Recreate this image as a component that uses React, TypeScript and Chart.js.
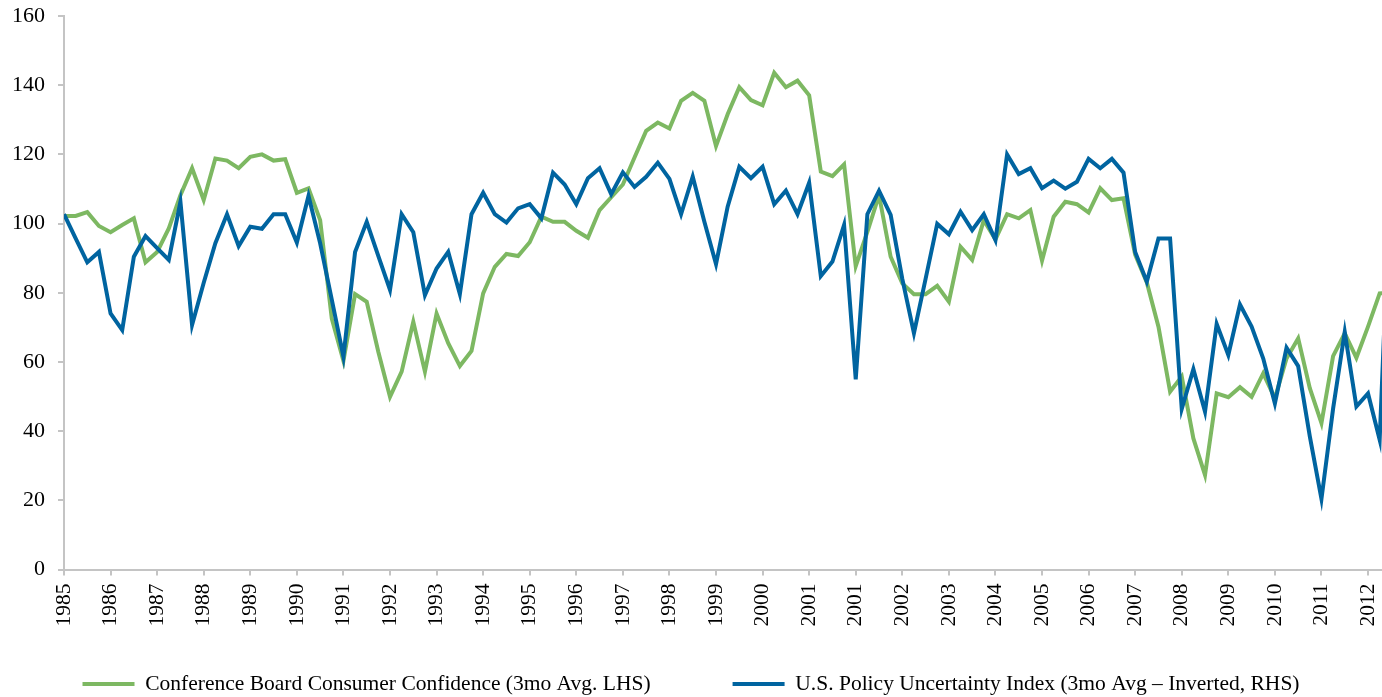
import React, { useEffect, useRef } from 'react';
import { Chart, registerables } from 'chart.js';

Chart.register(...registerables);

// Category tick labels (one every 4 quarterly observations)
const xTickLabels = [
  '1985', '1986', '1987', '1988', '1989', '1990', '1991', '1992', '1993', '1994',
  '1995', '1996', '1997', '1998', '1999', '2000', '2001', '2001', '2002', '2003',
  '2004', '2005', '2006', '2007', '2008', '2009', '2010', '2011', '2012',
];

// Conference Board Consumer Confidence (3mo Avg, LHS)
const consumerConfidence = [
  102.2, 102.2, 103.3, 99.3, 97.5, 99.6, 101.5, 88.8, 91.8, 98.6,
  108.2, 116.0, 106.8, 118.8, 118.2, 116.0, 119.3, 120.0, 118.2, 118.6,
  108.9, 110.2, 101.0, 72.5, 60.3, 79.6, 77.4, 62.9, 49.9, 57.2,
  71.6, 57.2, 74.0, 65.4, 58.8, 63.2, 79.8, 87.5, 91.2, 90.6,
  94.6, 102.0, 100.5, 100.5, 97.9, 95.9, 103.9, 107.6, 111.3, 119.1,
  126.8, 129.2, 127.5, 135.5, 137.8, 135.5, 122.4, 131.6, 139.4, 135.7,
  134.2, 143.6, 139.4, 141.3, 137.1, 115.0, 113.7, 117.1, 87.7, 97.6,
  108.2, 90.4, 82.7, 79.6, 79.6, 82.0, 77.4, 93.3, 89.5, 101.0,
  95.4, 102.7, 101.5, 103.9, 89.3, 102.0, 106.3, 105.6, 103.2, 110.2,
  106.8, 107.3, 91.0, 83.0, 70.2, 51.4, 55.8, 37.9, 27.3, 50.9,
  49.8, 52.7, 49.9, 56.7, 49.5, 61.0, 66.8, 52.4, 42.3, 61.7,
  68.3, 61.2, 70.2, 79.8, 80.0,
];

// U.S. Policy Uncertainty Index (3mo Avg, inverted, RHS)
const policyUncertaintyInverted = [
  102.7, 95.7, 88.8, 91.8, 74.0, 69.2, 90.4, 96.4, 92.9, 89.5,
  106.3, 70.7, 82.9, 94.3, 102.7, 93.5, 99.1, 98.5, 102.7, 102.7,
  94.5, 108.0, 94.3, 78.0, 61.5, 91.8, 100.5, 90.6, 80.8, 102.7,
  97.5, 79.3, 87.0, 91.8, 79.6, 102.7, 108.9, 102.7, 100.3, 104.4,
  105.6, 101.5, 114.7, 111.3, 105.6, 113.1, 116.0, 108.5, 114.8, 110.6,
  113.5, 117.6, 112.9, 102.7, 113.6, 100.5, 88.3, 104.9, 116.4, 113.1,
  116.4, 105.6, 109.5, 102.7, 111.8, 84.8, 89.0, 99.6, 55.0, 102.7,
  109.5, 102.5, 84.0, 68.3, 84.0, 99.9, 96.9, 103.4, 98.1, 102.7,
  95.2, 120.0, 114.3, 116.0, 110.2, 112.4, 110.1, 112.1, 118.7, 116.0,
  118.7, 114.7, 91.8, 83.2, 95.7, 95.7, 46.4, 57.9, 45.6, 71.0,
  62.0, 76.6, 70.2, 61.0, 48.0, 64.1, 58.8, 38.5, 20.4, 46.5,
  68.7, 47.1, 50.9, 37.5, 120.0,
];

const seriesLabels = [
  'Conference Board Consumer Confidence (3mo Avg. LHS)',
  'U.S. Policy Uncertainty Index (3mo Avg \u2013 Inverted, RHS)',
];

const GREEN = '#7db862';
const BLUE = '#0064a0';
const AXIS = '#c4c4c4';
const FONT = "'Liberation Serif', 'Times New Roman', serif";
const LEGEND_FONT_SIZE = 21.5;
const LEGEND_PAD = 82;
const LEGEND_CENTER_FROM_BOTTOM = 13;

// Moves the (bottom) legend row to sit just above the canvas bottom edge,
// and lets its box extend to the canvas bottom so the row is not clipped.
const legendPlacement = {
  id: 'legendPlacement',
  afterLayout(chart: any) {
    const lg = chart.legend;
    if (!lg) return;
    const top = chart.height - LEGEND_CENTER_FROM_BOTTOM - LEGEND_PAD - LEGEND_FONT_SIZE / 2;
    lg.top = top;
    lg.bottom = chart.height;
    lg.height = lg.bottom - lg.top;
  },
};

export default function App() {
  const ref = useRef<HTMLCanvasElement | null>(null);

  useEffect(() => {
    if (!ref.current) return;
    const chart = new Chart(ref.current, {
      type: 'line',
      data: {
        datasets: [
          {
            label: seriesLabels[0],
            data: consumerConfidence.map((y, i) => ({ x: i, y })),
            borderColor: GREEN,
            backgroundColor: GREEN,
            borderWidth: 4,
            pointRadius: 0,
            tension: 0,
            order: 2,
          },
          {
            label: seriesLabels[1],
            data: policyUncertaintyInverted.map((y, i) => ({ x: i, y })),
            borderColor: BLUE,
            backgroundColor: BLUE,
            borderWidth: 4,
            pointRadius: 0,
            tension: 0,
            order: 1,
          },
        ],
      },
      plugins: [legendPlacement],
      options: {
        responsive: false,
        animation: false,
        events: [],
        layout: { padding: { left: 0, right: 0, top: 16, bottom: 25.5 } },
        plugins: {
          tooltip: { enabled: false },
          legend: {
            position: 'bottom',
            maxHeight: 40,
            labels: {
              usePointStyle: true,
              pointStyle: 'line',
              pointStyleWidth: 52,
              padding: LEGEND_PAD,
              color: '#000',
              font: { family: FONT, size: LEGEND_FONT_SIZE },
              sort: (a: any, b: any) => a.datasetIndex - b.datasetIndex,
            },
          },
        },
        scales: {
          x: {
            type: 'linear',
            min: 0,
            max: 113.2,
            afterBuildTicks: (scale: any) => {
              scale.ticks = xTickLabels.map((_, k) => ({ value: k * 4 }));
            },
            afterFit: (scale: any) => {
              scale.height = 62;
              scale.paddingLeft = 0;
              scale.paddingRight = 0;
            },
            ticks: {
              autoSkip: false,
              maxRotation: 90,
              minRotation: 90,
              padding: 8,
              color: '#000',
              font: { family: FONT, size: 21.5 },
              callback: (v: any) => xTickLabels[Math.round(Number(v) / 4)] ?? '',
            },
            grid: {
              drawOnChartArea: false,
              drawTicks: true,
              tickLength: 6,
              color: AXIS,
              lineWidth: 2,
            },
            border: { color: AXIS, width: 2 },
          },
          y: {
            min: 0,
            max: 160,
            afterFit: (scale: any) => {
              scale.width = 64;
              scale.paddingTop = 0;
              scale.paddingBottom = 0;
            },
            ticks: {
              stepSize: 20,
              padding: 13,
              color: '#000',
              font: { family: FONT, size: 22 },
            },
            grid: {
              drawOnChartArea: false,
              drawTicks: true,
              tickLength: 6,
              color: AXIS,
              lineWidth: 2,
            },
            border: { color: AXIS, width: 2 },
          },
        },
      },
    });
    return () => chart.destroy();
  }, []);

  return (
    <div style={{ position: 'absolute', left: 0, top: 0, width: 1382, height: 697, background: '#fff' }}>
      <canvas ref={ref} width={1382} height={697} style={{ display: 'block' }} />
    </div>
  );
}
